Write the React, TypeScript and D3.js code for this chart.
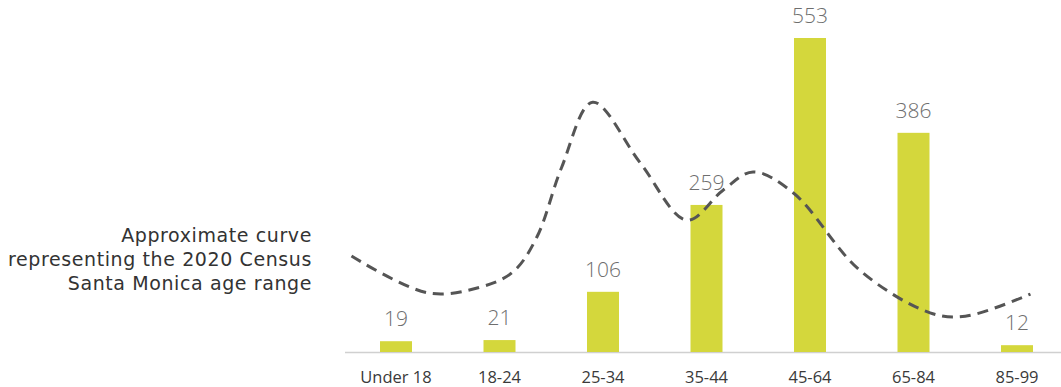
import React from "react";
import * as d3 from "d3";

const categories = ["Under 18", "18-24", "25-34", "35-44", "45-64", "65-84", "85-99"];
const counts = [19, 21, 106, 259, 553, 386, 12];
// Approximate census curve: [category position, value on the same scale]
const curveX = [-0.43, 0.31, 0.81, 1.13, 1.36, 1.6, 1.9, 2.36, 2.81, 3.16, 3.45, 3.84, 4.48, 5.16, 5.5, 6.13];
const curveY = [169, 104, 114, 141, 202, 325, 440, 333, 232, 285, 317, 280, 144, 69, 63, 102];
const noteLines = ["Approximate curve", "representing the 2020 Census", "Santa Monica age range"];

const W = 1061;
const H = 387;
const FONT = "'Open Sans', Lato, sans-serif";
const NOTE_FONT = "'DejaVu Sans', 'Open Sans', sans-serif";

export default function App() {
  const x = d3.scalePoint<string>().domain(categories).range([396, 1017]);
  const xc = d3.scaleLinear().domain([0, categories.length - 1]).range([396, 1017]);
  const y = d3.scaleLinear().domain([0, 553]).range([352, 38]);
  const barW = 32;
  const pts: [number, number][] = curveX.map((v, i) => [v, curveY[i]]);
  const line = d3
    .line<[number, number]>()
    .x((d) => xc(d[0]))
    .y((d) => y(d[1]))
    .curve(d3.curveCatmullRom.alpha(0.5));

  return (
    <svg width={W} height={H} style={{ position: "absolute", left: 0, top: 0, background: "#fff" }}>
      <line x1={345} x2={W} y1={y(0) + 0.5} y2={y(0) + 0.5} stroke="#d0d0d0" strokeWidth={1.5} />
      {categories.map((c, i) => (
        <g key={c}>
          <rect x={x(c)! - barW / 2} y={y(counts[i])} width={barW} height={y(0) - y(counts[i])} fill="#d4d73c" />
          <text x={x(c)} y={y(counts[i]) - 15} textAnchor="middle" fontFamily={FONT} fontWeight={300} fontSize={21} fill="#6e6e6e">
            {counts[i]}
          </text>
          <text x={x(c)} y={383} textAnchor="middle" fontFamily={FONT} fontSize={16.5} fill="#3a3a3a">
            {c}
          </text>
        </g>
      ))}
      <path d={line(pts) || ""} fill="none" stroke="#555" strokeWidth={3} strokeDasharray="11 7" />
      {noteLines.map((t, i) => (
        <text key={t} x={312} y={242 + i * 24} textAnchor="end" fontFamily={NOTE_FONT} fontSize={19} letterSpacing={0.6} fill="#333">
          {t}
        </text>
      ))}
    </svg>
  );
}
